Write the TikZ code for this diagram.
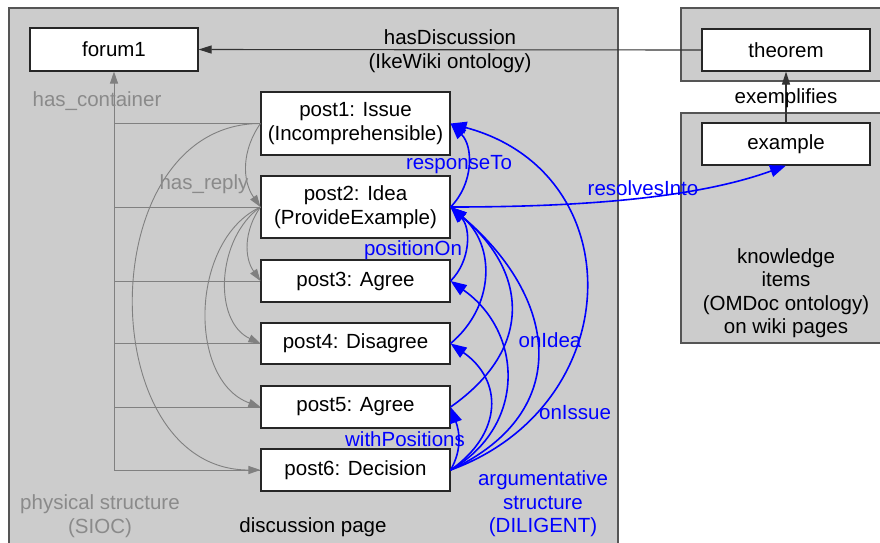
\documentclass[tikz,border=0pt]{standalone}
\usepackage{fontspec}
\setmainfont{Liberation Sans}
\usetikzlibrary{arrows.meta}
\definecolor{panelgray}{HTML}{CCCCCC}
\definecolor{panelline}{HTML}{555555}
\definecolor{lightline}{HTML}{808080}
\definecolor{labelgray}{HTML}{8A8A8A}
\definecolor{darkline}{HTML}{333333}
\begin{document}
\begin{tikzpicture}[x=1pt,y=1pt,
  font=\fontsize{20.5}{23.5}\selectfont,
  panel/.style={fill=panelgray, draw=panelline, line width=1.3pt},
  box/.style={draw=black!85, fill=white, line width=1.1pt, inner sep=0pt, align=center},
  postbox/.style={box, minimum width=189pt},
  graycon/.style={draw=lightline, line width=0.9pt},
  grayarr/.style={graycon, -{Triangle[length=12pt,width=8pt]}},
  bluearr/.style={draw=blue, line width=1.6pt, -{Triangle[length=16pt,width=12pt]}},
  blackarr/.style={draw=darkline, line width=1.1pt, -{Triangle[length=13pt,width=8pt]}},
  gtext/.style={text=labelgray, align=center},
  btext/.style={text=blue, align=center},
  ktext/.style={text=black, align=center}]
\clip (0,0) rectangle (880,-542);
\fill[white] (0,0) rectangle (880,-542);
% panels
\draw[panel] (9,-8) rectangle (618,-560);
\draw[panel] (681,-8) rectangle (890,-81);
\draw[panel] (681,-113) rectangle (890,-343);
% boxes
\node[box, minimum width=168pt, minimum height=43pt] (forum1) at (114,-49.5) {forum1};
\node[box, minimum width=168pt, minimum height=42pt] (theorem) at (786,-50) {theorem};
\node[box, minimum width=168pt, minimum height=42pt] (example) at (786,-144) {example};
\node[postbox, minimum height=63pt] (post1) at (355.5,-123.5) {post1: Issue\\(Incomprehensible)};
\node[postbox, minimum height=62pt] (post2) at (355.5,-207) {post2: Idea\\(ProvideExample)};
\node[postbox, minimum height=42pt] (post3) at (355.5,-281) {post3: Agree};
\node[postbox, minimum height=41pt] (post4) at (355.5,-343.5) {post4: Disagree};
\node[postbox, minimum height=42pt] (post5) at (355.5,-407) {post5: Agree};
\node[postbox, minimum height=42pt] (post6) at (355.5,-470) {post6: Decision};
% physical structure (SIOC)
\draw[grayarr] (post6.west) -| (forum1.south);
\foreach \p in {post1,post2,post3,post4,post5}{
  \draw[graycon] (\p.west) -- (\p.west -| forum1.south);
}
\draw[grayarr] (post1.west) to[out=235,in=125] (post2.west);
\draw[grayarr] (post1.west) to[out=180,in=180,looseness=1.25] (post6.west);
\draw[grayarr] (post2.west) to[out=235,in=125] (post3.west);
\draw[grayarr] (post2.west) to[out=215,in=155] (post4.west);
\draw[grayarr] (post2.west) to[out=205,in=160] (post5.west);
% black connectors
\draw[blackarr] (theorem.west) -- (forum1.east);
\draw[blackarr] (example.north) -- (theorem.south);
% argumentative structure (DILIGENT)
\draw[bluearr] (post2.east) to[out=45,in=-45] (post1.east);
\draw[bluearr] (post3.east) to[out=45,in=-45] (post2.east);
\draw[bluearr] (post4.east) to[out=40,in=-40,looseness=1.1] (post2.east);
\draw[bluearr] (post5.east) to[out=35,in=-40,looseness=1.3] (post2.east);
\draw[bluearr] (post6.east) to[out=60,in=-70] (post5.east);
\draw[bluearr] (post6.east) to[out=35,in=-35,looseness=1.3] (post4.east);
\draw[bluearr] (post6.east) to[out=30,in=-35,looseness=1.2] (post3.east);
\draw[bluearr] (post6.east) to[out=25,in=-40,looseness=1.35] (post2.east);
\draw[bluearr] (post6.east) to[out=20,in=-15,looseness=1.4] (post1.east);
\draw[bluearr] (post2.east) to[out=0,in=200,looseness=0.8] (example.south);
% labels
\node[ktext] (hasdisc) at (450,-51) {hasDiscussion\\(IkeWiki ontology)};
\node[ktext] (exempl) at (786,-98) {exemplifies};
\node[ktext] (knowl) at (786,-293) {knowledge\\items\\(OMDoc ontology)\\on wiki pages};
\node[ktext] (discpage) at (313,-527) {discussion page};
\node[gtext] (hascont) at (97,-101) {has\_container};
\node[gtext] (hasreply) at (204,-184) {has\_reply};
\node[gtext] (phys) at (100,-516) {physical structure\\(SIOC)};
\node[btext] (respto) at (459,-165) {responseTo};
\node[btext] (poson) at (413,-250) {positionOn};
\node[btext] (resinto) at (643,-188) {resolvesInto};
\node[btext] (onidea) at (550,-340) {onIdea};
\node[btext] (onissue) at (575,-413) {onIssue};
\node[btext] (withpos) at (405,-439) {withPositions};
\node[btext] (argstr) at (543,-504) {argumentative\\structure\\(DILIGENT)};
\end{tikzpicture}
\end{document}
